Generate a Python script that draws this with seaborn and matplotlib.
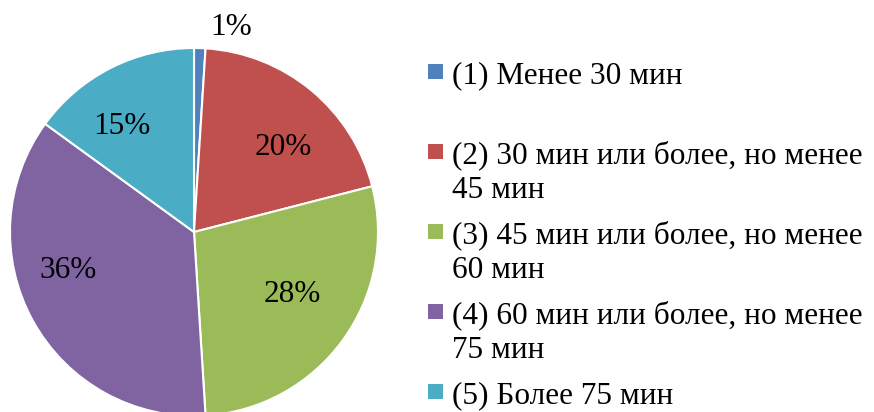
import matplotlib
matplotlib.use("Agg")
import matplotlib.pyplot as plt
from matplotlib.patches import Rectangle
import seaborn as sns

categories = [
    "(1) Менее 30 мин",
    "(2) 30 мин или более, но менее\n45 мин",
    "(3) 45 мин или более, но менее\n60 мин",
    "(4) 60 мин или более, но менее\n75 мин",
    "(5) Более 75 мин",
]
values = [1, 20, 28, 36, 15]
pct_labels = ["1%", "20%", "28%", "36%", "15%"]
colors = ["#4F81BD", "#C0504D", "#9BBB59", "#8064A2", "#4BACC6"]

sns.set_theme(style="white")
plt.rcParams["font.family"] = ["Liberation Serif", "DejaVu Serif"]

W, H = 874, 412
fig = plt.figure(figsize=(W / 100, H / 100), dpi=100)
fig.patch.set_facecolor("white")

cx, cy, r = 194, 232, 184
ax = fig.add_axes([(cx - r) / W, (H - cy - r) / H, 2 * r / W, 2 * r / H])
ax.set_xlim(-1, 1)
ax.set_ylim(-1, 1)
ax.set_aspect("equal")
ax.axis("off")

palette = sns.color_palette(colors)
wedges, _ = ax.pie(values, colors=palette, startangle=90, counterclock=False,
                   radius=1, center=(0, 0), frame=True,
                   wedgeprops=dict(edgecolor="white", linewidth=1.5))
for w in wedges:
    w.set_clip_on(False)
ax.axis("off")

label_pos = [(0.20, 1.11), (0.484, 0.457), (0.533, -0.342), (-0.685, -0.207), (-0.391, 0.571)]
fs = 22.5
for txt, (x, y) in zip(pct_labels, label_pos):
    ax.text(x, y, txt, ha="center", va="center", fontsize=fs, color="black", clip_on=False)

# legend (baselines in pixels from top)
item_base = [83, 163, 243, 323, 403]
line_gap = 35
for lab, col, yb in zip(categories, colors, item_base):
    fig.add_artist(Rectangle((428 / W, 1 - (yb - 4) / H), 15 / W, 15 / H,
                             transform=fig.transFigure, facecolor=col, edgecolor="none"))
    for i, line in enumerate(lab.split("\n")):
        fig.text(452 / W, 1 - (yb + i * line_gap) / H, line, ha="left", va="baseline",
                 fontsize=fs, color="black")

fig.savefig("out.png", dpi=100)
